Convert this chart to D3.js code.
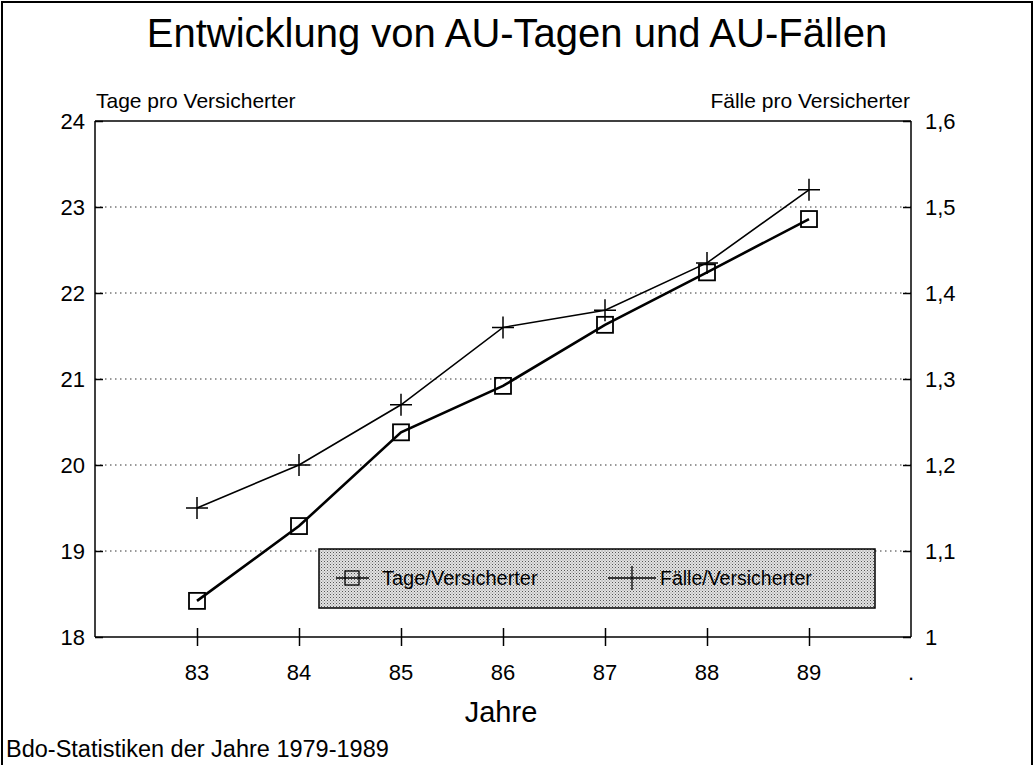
<!DOCTYPE html>
<html><head><meta charset="utf-8">
<script src="https://cdn.jsdelivr.net/npm/d3@7"></script>
<style>body{margin:0;background:#fff}svg{display:block}text{font-family:"Liberation Sans",Arial,sans-serif;fill:#000}</style>
</head><body>
<script>
const years = [83, 84, 85, 86, 87, 88, 89];
const tage = [18.42, 19.29, 20.38, 20.92, 21.63, 22.24, 22.86];
const faelle = [1.15, 1.20, 1.27, 1.36, 1.38, 1.435, 1.52];
const leftTicks = [18, 19, 20, 21, 22, 23, 24];
const rightTicks = [1.0, 1.1, 1.2, 1.3, 1.4, 1.5, 1.6];
const xTickLabels = ["83", "84", "85", "86", "87", "88", "89", "."];
const seriesNames = ["Tage/Versicherter", "Fälle/Versicherter"];

const W = 1035, H = 765;
const m = {l: 95, r: 911, t: 121, b: 637};
const svg = d3.select("body").append("svg").attr("width", W).attr("height", H);

const defs = svg.append("defs");
const pat = defs.append("pattern").attr("id", "dots").attr("width", 3).attr("height", 3).attr("patternUnits", "userSpaceOnUse");
pat.append("rect").attr("width", 3).attr("height", 3).attr("fill", "#e2e2e2");
pat.append("rect").attr("width", 1).attr("height", 1).attr("fill", "#555");
pat.append("rect").attr("x", 1.5).attr("y", 1.5).attr("width", 1).attr("height", 1).attr("fill", "#888");

// outer frame
svg.append("path").attr("d", `M2,${H} V2 H1032 V${H}`).attr("fill", "none").attr("stroke", "#000").attr("stroke-width", 2);

const x = d3.scaleLinear().domain([82, 90]).range([m.l, m.r]);
const yL = d3.scaleLinear().domain([18, 24]).range([m.b, m.t]);
const yR = d3.scaleLinear().domain([1.0, 1.6]).range([m.b, m.t]);

// title
svg.append("text").attr("x", 517).attr("y", 47).attr("text-anchor", "middle").attr("font-size", 40).text("Entwicklung von AU-Tagen und AU-Fällen");
svg.append("text").attr("x", 96).attr("y", 108).attr("font-size", 21).text("Tage pro Versicherter");
svg.append("text").attr("x", 910).attr("y", 108).attr("text-anchor", "end").attr("font-size", 21).text("Fälle pro Versicherter");

// gridlines
svg.append("g").selectAll("line").data(leftTicks.slice(1, -1)).join("line")
  .attr("x1", m.l).attr("x2", m.r).attr("y1", d => yL(d)).attr("y2", d => yL(d))
  .attr("stroke", "#333").attr("stroke-width", 1).attr("stroke-dasharray", "1.5,3.5");

// plot frame top line
svg.append("line").attr("x1", m.l).attr("x2", m.r).attr("y1", m.t).attr("y2", m.t).attr("stroke", "#000").attr("stroke-width", 1.5);

// left axis
const gL = svg.append("g").attr("transform", `translate(${m.l},0)`)
  .call(d3.axisRight(yL).tickValues(leftTicks).tickSize(8).tickFormat(""));
gL.select(".domain").attr("d", `M0,${m.t}V${m.b}`).attr("stroke-width", 1.5);
gL.selectAll(".tick line").attr("stroke-width", 1.5);
svg.append("g").selectAll("text").data(leftTicks).join("text")
  .attr("x", 85).attr("y", d => yL(d) + 8).attr("text-anchor", "end").attr("font-size", 22).text(d => d);

// right axis
const gR = svg.append("g").attr("transform", `translate(${m.r},0)`)
  .call(d3.axisLeft(yR).tickValues(rightTicks).tickSize(8).tickFormat(""));
gR.select(".domain").attr("d", `M0,${m.t}V${m.b}`).attr("stroke-width", 1.5);
gR.selectAll(".tick line").attr("stroke-width", 1.5);
svg.append("g").selectAll("text").data(rightTicks).join("text")
  .attr("x", 925).attr("y", d => yR(d) + 8).attr("font-size", 22)
  .text(d => d === 1 ? "1" : d3.format(".1f")(d).replace(".", ","));

// bottom axis
const gB = svg.append("g").attr("transform", `translate(0,${m.b})`)
  .call(d3.axisBottom(x).tickValues(years).tickSize(8).tickFormat(""));
gB.select(".domain").attr("d", `M${m.l},0H${m.r}`).attr("stroke-width", 1.5);
gB.selectAll(".tick line").attr("y1", -9).attr("y2", 9).attr("stroke-width", 1.5);
svg.append("g").selectAll("text").data(xTickLabels).join("text")
  .attr("x", (d, i) => x(83 + i)).attr("y", 680).attr("text-anchor", "middle").attr("font-size", 22).text(d => d);

svg.append("text").attr("x", 501).attr("y", 722).attr("text-anchor", "middle").attr("font-size", 29).text("Jahre");
svg.append("text").attr("x", 6).attr("y", 757).attr("font-size", 23.5).text("Bdo-Statistiken der Jahre 1979-1989");

// series lines
const lineT = d3.line().x((d, i) => x(years[i])).y(d => yL(d));
const lineF = d3.line().x((d, i) => x(years[i])).y(d => yR(d));
svg.append("path").datum(tage).attr("d", lineT).attr("fill", "none").attr("stroke", "#000").attr("stroke-width", 2.6);
svg.append("path").datum(faelle).attr("d", lineF).attr("fill", "none").attr("stroke", "#000").attr("stroke-width", 1.6);

const sq = 16, cr = 11;
svg.append("g").selectAll("rect").data(tage).join("rect")
  .attr("x", (d, i) => x(years[i]) - sq / 2).attr("y", d => yL(d) - sq / 2)
  .attr("width", sq).attr("height", sq).attr("fill", "none").attr("stroke", "#000").attr("stroke-width", 1.8);
svg.append("g").selectAll("path").data(faelle).join("path")
  .attr("d", (d, i) => { const cx = x(years[i]), cy = yR(d); return `M${cx - cr},${cy}H${cx + cr}M${cx},${cy - cr}V${cy + cr}`; })
  .attr("fill", "none").attr("stroke", "#000").attr("stroke-width", 1.5);

// legend
const lg = svg.append("g");
lg.append("rect").attr("x", 319).attr("y", 549).attr("width", 556).attr("height", 59)
  .attr("fill", "url(#dots)").attr("stroke", "#000").attr("stroke-width", 1.5);
lg.append("line").attr("x1", 336).attr("x2", 369).attr("y1", 578).attr("y2", 578).attr("stroke", "#000").attr("stroke-width", 1.5);
lg.append("rect").attr("x", 345).attr("y", 571).attr("width", 14).attr("height", 14).attr("fill", "none").attr("stroke", "#000").attr("stroke-width", 1.3);
lg.append("text").attr("x", 382).attr("y", 585).attr("font-size", 20).text(seriesNames[0]);
lg.append("line").attr("x1", 608).attr("x2", 656).attr("y1", 578).attr("y2", 578).attr("stroke", "#000").attr("stroke-width", 1.3);
lg.append("line").attr("x1", 632).attr("x2", 632).attr("y1", 566).attr("y2", 590).attr("stroke", "#000").attr("stroke-width", 1.3);
lg.append("text").attr("x", 660).attr("y", 585).attr("font-size", 19.5).text(seriesNames[1]);
</script>
</body></html>
